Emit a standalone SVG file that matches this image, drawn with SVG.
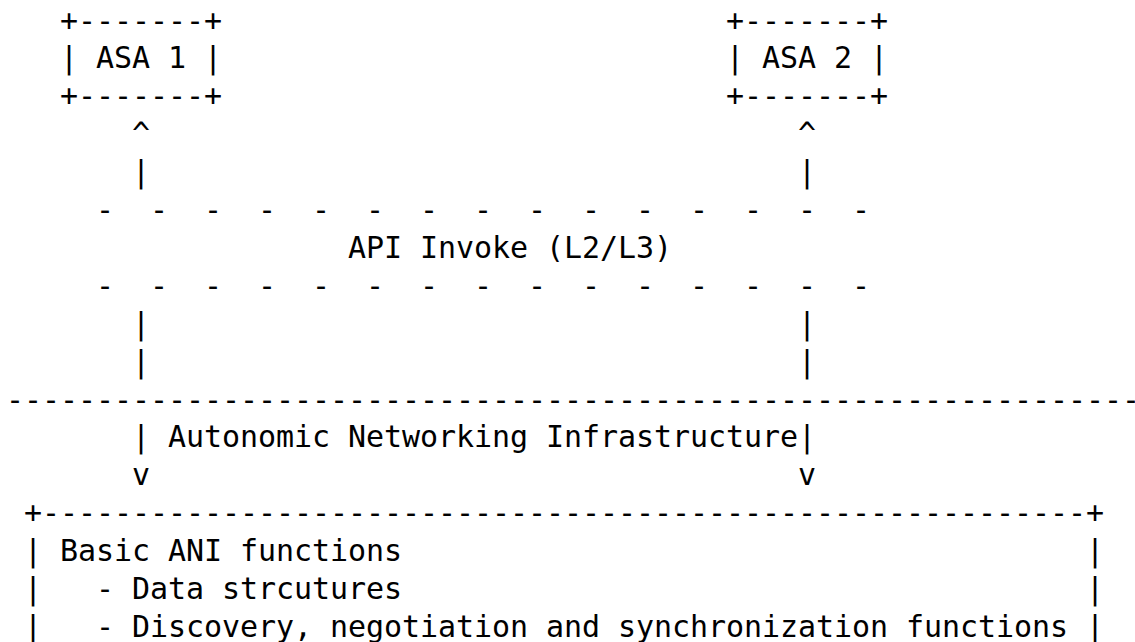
<svg xmlns="http://www.w3.org/2000/svg" width="1135" height="642" viewBox="0 0 1135 642">
<style>
.t{font-family:"DejaVu Sans Mono","Liberation Mono",monospace;font-size:30px;letter-spacing:-0.06px;fill:#000;white-space:pre}
</style>
<rect width="1135" height="642" fill="#fff"/>
<g id="asa1">
<text class="t" x="60" y="30.5" xml:space="preserve">+-------+</text>
<text class="t" x="60" y="68.4" xml:space="preserve">| ASA 1 |</text>
<text class="t" x="60" y="106.3" xml:space="preserve">+-------+</text>
</g>
<g id="asa2">
<text class="t" x="726" y="30.5" xml:space="preserve">+-------+</text>
<text class="t" x="726" y="68.4" xml:space="preserve">| ASA 2 |</text>
<text class="t" x="726" y="106.3" xml:space="preserve">+-------+</text>
</g>
<g id="api-invoke">
<text class="t" x="96" y="220" xml:space="preserve">-  -  -  -  -  -  -  -  -  -  -  -  -  -  -</text>
<text class="t" x="348" y="257.9" xml:space="preserve">API Invoke (L2/L3)</text>
<text class="t" x="96" y="295.8" xml:space="preserve">-  -  -  -  -  -  -  -  -  -  -  -  -  -  -</text>
</g>
<g id="ani-boundary">
<text class="t" x="6" y="409.5" xml:space="preserve">---------------------------------------------------------------</text>
<text class="t" x="168" y="447.4" xml:space="preserve">Autonomic Networking Infrastructure</text>
</g>
<g id="ani-box">
<text class="t" x="24" y="523.2" xml:space="preserve">+----------------------------------------------------------+</text>
<text class="t" x="24" y="561.1" xml:space="preserve">| Basic ANI functions                                      |</text>
<text class="t" x="24" y="599" xml:space="preserve">|   - Data strcutures                                      |</text>
<text class="t" x="24" y="636.9" xml:space="preserve">|   - Discovery, negotiation and synchronization functions |</text>
</g>
<g id="connectors">
<text class="t" x="132" y="144.2">^</text>
<text class="t" x="132" y="182.1">|</text>
<text class="t" x="132" y="333.7">|</text>
<text class="t" x="132" y="371.6">|</text>
<text class="t" x="132" y="447.4">|</text>
<text class="t" x="132" y="485.3">v</text>
<text class="t" x="798" y="144.2">^</text>
<text class="t" x="798" y="182.1">|</text>
<text class="t" x="798" y="333.7">|</text>
<text class="t" x="798" y="371.6">|</text>
<text class="t" x="798" y="447.4">|</text>
<text class="t" x="798" y="485.3">v</text>
</g>
</svg>
